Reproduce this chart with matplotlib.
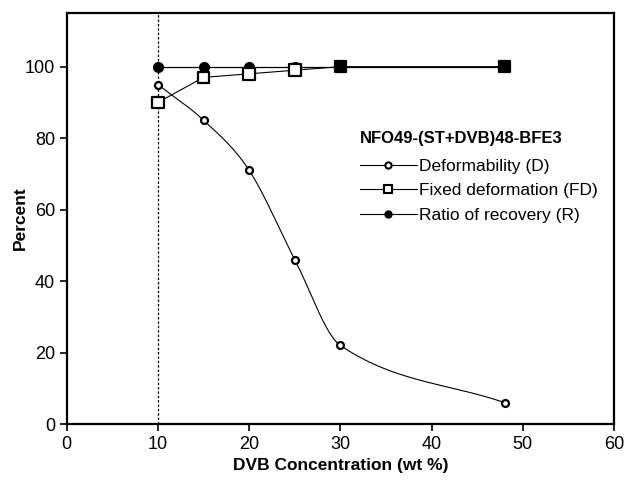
import numpy as np
import matplotlib.pyplot as plt

plt.rcParams['font.family'] = ['Liberation Sans', 'DejaVu Sans']

dvb = [10, 15, 20, 25, 30, 48]
deform = [95, 85, 71, 46, 22, 6]
fixed_def = [90, 97, 98, 99, 100, 100]
recovery = [100, 100, 100, 100, 100, 100]
filled_fd = [False, False, False, False, True, True]


def smooth(x, y, n=40):
    # cubic Hermite through the points, slopes from neighbouring points
    x = np.asarray(x, float)
    y = np.asarray(y, float)
    m = np.zeros_like(y)
    m[1:-1] = (y[2:] - y[:-2]) / (x[2:] - x[:-2])
    m[0] = (y[1] - y[0]) / (x[1] - x[0])
    m[-1] = (y[-1] - y[-2]) / (x[-1] - x[-2])
    xs, ys = [], []
    for i in range(len(x) - 1):
        h = x[i + 1] - x[i]
        t = np.linspace(0, 1, n)
        h00 = 2 * t**3 - 3 * t**2 + 1
        h10 = t**3 - 2 * t**2 + t
        h01 = -2 * t**3 + 3 * t**2
        h11 = t**3 - t**2
        xs.extend(x[i] + t * h)
        ys.extend(h00 * y[i] + h10 * h * m[i] + h01 * y[i + 1] + h11 * h * m[i + 1])
    return xs, ys


fig = plt.figure(figsize=(6.24, 4.83), dpi=100)
ax = fig.add_axes([0.107, 0.122, 0.877, 0.851])

ax.axvline(10, color='black', linestyle=(0, (2, 1.5)), linewidth=0.9)

sx, sy = smooth(dvb, deform)
ax.plot(sx, sy, color='black', linewidth=0.8)
ax.plot(dvb, deform, linestyle='none', marker='o', markersize=5,
        markerfacecolor='white', markeredgecolor='black', markeredgewidth=1.6)

ax.plot(dvb, recovery, color='black', linewidth=0.9, marker='o', markersize=7,
        markerfacecolor='black', markeredgecolor='black')

ax.plot(dvb, fixed_def, color='black', linewidth=0.8)
fc = ['black' if f else 'white' for f in filled_fd]
ax.scatter(dvb, fixed_def, marker='s', s=70, facecolors=fc,
           edgecolors='black', linewidths=1.6, zorder=3)

# legend handles
h1, = ax.plot([], [], color='black', linewidth=0.8, marker='o', markersize=4.5,
              markerfacecolor='white', markeredgecolor='black', markeredgewidth=1.5)
h2, = ax.plot([], [], color='black', linewidth=0.8, marker='s', markersize=5.5,
              markerfacecolor='white', markeredgecolor='black', markeredgewidth=1.5)
h3, = ax.plot([], [], color='black', linewidth=0.8, marker='o', markersize=5,
              markerfacecolor='black', markeredgecolor='black')
leg = ax.legend([h1, h2, h3],
                ['Deformability (D)', 'Fixed deformation (FD)', 'Ratio of recovery (R)'],
                title='NFO49-(ST+DVB)48-BFE3', frameon=False, fontsize=12.5,
                loc='upper left', bbox_to_anchor=(0.535, 0.713),
                handlelength=3.3, handletextpad=0.15, labelspacing=0.55,
                borderaxespad=0, borderpad=0)
leg.get_title().set_fontweight('bold')
leg.get_title().set_fontsize(12)
leg._legend_box.align = 'left'
leg._legend_box.sep = 9

ax.set_xlim(0, 60)
ax.set_ylim(0, 115)
ax.set_xticks([0, 10, 20, 30, 40, 50, 60])
ax.set_yticks([0, 20, 40, 60, 80, 100])
ax.tick_params(direction='out', length=5, width=1.2, labelsize=13)
for s in ax.spines.values():
    s.set_linewidth(1.6)

ax.set_xlabel('DVB Concentration (wt %)', fontsize=12.5, fontweight='bold')
ax.set_ylabel('Percent', fontsize=12.5, fontweight='bold', labelpad=-2)

fig.savefig('out.png', dpi=100)
